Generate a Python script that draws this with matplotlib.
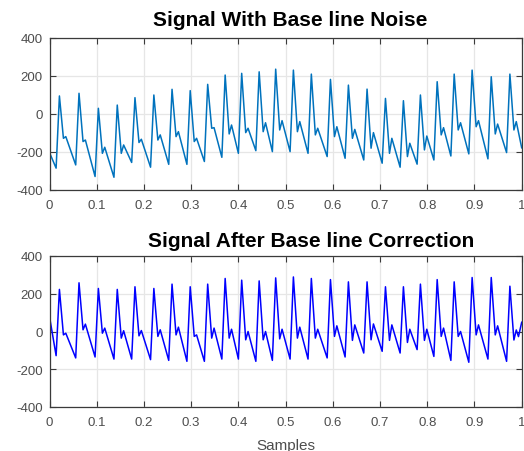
import matplotlib
matplotlib.use("Agg")
import matplotlib.pyplot as plt
import numpy as np

# ---- data (x in "samples" units, 0..1) ----
peak_t = [0.021, 0.0625, 0.1035, 0.1435, 0.181, 0.221, 0.2595, 0.298, 0.335, 0.372,
          0.407, 0.444, 0.479, 0.5165, 0.5545, 0.595, 0.633, 0.6725, 0.7115, 0.7495,
          0.7855, 0.821, 0.857, 0.895, 0.9355, 0.975]
trough_t = [0.014, 0.0555, 0.0965, 0.1365, 0.174, 0.214, 0.2525, 0.291, 0.328, 0.365,
            0.400, 0.437, 0.472, 0.5095, 0.5475, 0.588, 0.626, 0.6655, 0.7045, 0.7425,
            0.7785, 0.814, 0.850, 0.888, 0.9285, 0.968]
notch_t = [0.0295, 0.071, 0.112, 0.152, 0.1895, 0.2295, 0.268, 0.3065, 0.3435, 0.3805,
           0.4155, 0.4525, 0.4875, 0.525, 0.563, 0.6035, 0.6415, 0.681, 0.72, 0.758,
           0.794, 0.8295, 0.8655, 0.9035, 0.944, 0.9835]
bump_t = [0.0345, 0.076, 0.117, 0.157, 0.1945, 0.2345, 0.273, 0.3115, 0.3485, 0.3855,
          0.4205, 0.4575, 0.4925, 0.530, 0.568, 0.6085, 0.6465, 0.686, 0.725, 0.763,
          0.799, 0.8345, 0.8705, 0.9085, 0.949, 0.9885]

# Signal with baseline noise
noisy_start = -203
noisy_trough = [-285, -268, -329, -333, -255, -280, -265, -265, -250, -228,
                -207, -193, -198, -198, -207, -224, -233, -242, -259, -280,
                -264, -242, -221, -210, -236, -203]
noisy_peak = [95, 109, 30, 47, 86, 100, 130, 123, 156, 205,
              214, 222, 236, 231, 210, 182, 152, 131, 82, 70,
              100, 170, 210, 231, 196, 210]
noisy_notch = [-128, -145, -207, -207, -150, -137, -119, -145, -75, -105,
               -98, -93, -84, -93, -110, -119, -128, -180, -207, -224,
               -189, -110, -84, -67, -105, -84]
noisy_bump = [-119, -137, -175, -163, -133, -110, -93, -128, -72, -58,
              -75, -46, -35, -40, -75, -67, -81, -98, -128, -154,
              -116, -72, -46, -35, -53, -40]
noisy_tail_t = [1.0]
noisy_tail = [-178]

# Signal after baseline correction
clean_start = 79
clean_trough = [-128, -140, -135, -146, -146, -149, -153, -158, -158, -146,
                -146, -158, -153, -146, -146, -140, -135, -114, -105, -114,
                -96, -132, -153, -163, -146, -158]
clean_peak = [223, 258, 228, 223, 237, 228, 251, 237, 251, 281,
              272, 268, 284, 289, 281, 275, 263, 263, 237, 237,
              251, 275, 263, 286, 286, 240]
clean_notch = [-18, 9, -9, -35, -23, -26, -18, -26, -35, -35,
               -44, -44, -39, -35, -35, -26, -47, -44, -47, -58,
               -47, -26, -26, -18, -18, -45]
clean_bump = [-9, 39, 18, 4, 5, 9, 23, -18, 18, 12,
              0, 0, 12, 23, 12, 30, 35, 40, 35, 12,
              12, 18, 0, 35, 30, 8]
clean_tail_t = [0.9932, 1.0]
clean_tail = [-27, 49]

x_ticks = [0, 0.1, 0.2, 0.3, 0.4, 0.5, 0.6, 0.7, 0.8, 0.9, 1]
x_labels = ["0", "0.1", "0.2", "0.3", "0.4", "0.5", "0.6", "0.7", "0.8", "0.9", "1"]
y_ticks = [-400, -200, 0, 200, 400]
titles = ["Signal With Base line Noise", "Signal After Base line Correction"]


def build(start, trough, peak, notch, bump, tail_t, tail):
    xs, ys = [0.0], [start]
    for i in range(len(peak_t)):
        xs += [trough_t[i], peak_t[i], notch_t[i], bump_t[i]]
        ys += [trough[i], peak[i], notch[i], bump[i]]
    xs += tail_t
    ys += tail
    return np.array(xs), np.array(ys)


nx, ny = build(noisy_start, noisy_trough, noisy_peak, noisy_notch, noisy_bump,
               noisy_tail_t, noisy_tail)
cx, cy = build(clean_start, clean_trough, clean_peak, clean_notch, clean_bump,
               clean_tail_t, clean_tail)

plt.rcParams['font.family'] = ['Liberation Sans', 'DejaVu Sans']
plt.rcParams['axes.unicode_minus'] = False

W, H = 524, 452
fig = plt.figure(figsize=(W / 100, H / 100), dpi=100)
fig.patch.set_facecolor('white')

left = 49.5 / W
width = 472.2 / W
ax1 = fig.add_axes([left, 1 - 191 / H, width, 152 / H])
ax2 = fig.add_axes([left, 1 - 408 / H, width, 151 / H])

label_col = '#4d4d4d'
spine_col = '#3a3a3a'

for ax, (xx, yy), col, title, tx, ty in [
        (ax1, (nx, ny), '#0072BD', titles[0], 0.509, 1.085),
        (ax2, (cx, cy), '#0000FF', titles[1], 0.553, 1.066)]:
    ax.plot(xx, yy, color=col, lw=1.1, solid_joinstyle='round')
    ax.set_xlim(0, 1)
    ax.set_ylim(-400, 400)
    ax.set_xticks(x_ticks)
    ax.set_xticklabels(x_labels)
    ax.set_yticks(y_ticks)
    ax.grid(True, color='#e6e6e6', lw=0.9)
    ax.set_axisbelow(True)
    ax.tick_params(direction='in', length=4, width=0.8, color=spine_col,
                   labelcolor=label_col, labelsize=9.5, top=True, right=True)
    ax.tick_params(axis='x', pad=6.5)
    ax.tick_params(axis='y', pad=5)
    for s in ax.spines.values():
        s.set_color(spine_col)
        s.set_linewidth(0.9)
    ax.text(tx, ty, title, transform=ax.transAxes, ha='center', va='baseline',
            fontsize=15, fontweight='bold', color='black')

fig.text((49.5 + 472.2 / 2) / W, 1 - 450 / H, "Samples", ha='center',
         va='baseline', fontsize=11, color=label_col)

fig.savefig('out.png', dpi=100)
